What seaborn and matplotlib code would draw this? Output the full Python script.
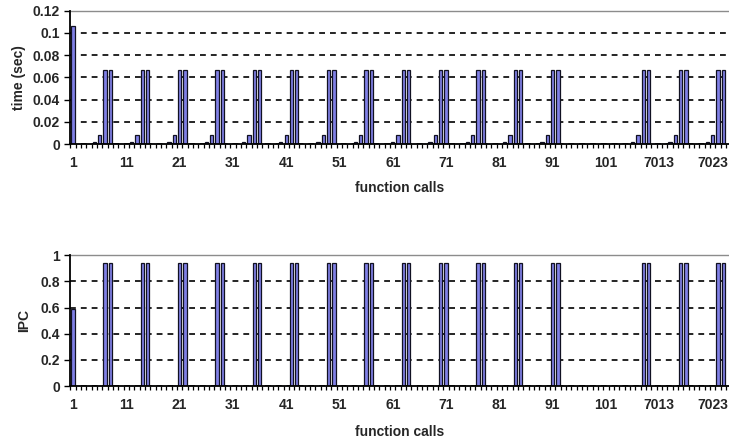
import numpy as np
import pandas as pd
import matplotlib
matplotlib.use("Agg")
import matplotlib.pyplot as plt
import seaborn as sns

# ---------------- data ----------------
calls = [str(c) for c in list(range(1, 105)) + list(range(7007, 7027))]

time_sec = [
    0.106, 0, 0, 0,
    0.0015, 0.008, 0.0665, 0.0665, 0, 0, 0,
    0.0015, 0.008, 0.0665, 0.0665, 0, 0, 0,
    0.0015, 0.008, 0.0665, 0.0665, 0, 0, 0,
    0.0015, 0.008, 0.0665, 0.0665, 0, 0, 0,
    0.0015, 0.008, 0.0665, 0.0665, 0, 0, 0,
    0.0015, 0.008, 0.0665, 0.0665, 0, 0, 0,
    0.0015, 0.008, 0.0665, 0.0665, 0, 0, 0,
    0.0015, 0.008, 0.0665, 0.0665, 0, 0, 0,
    0.0015, 0.008, 0.0665, 0.0665, 0, 0, 0,
    0.0015, 0.008, 0.0665, 0.0665, 0, 0, 0,
    0.0015, 0.008, 0.0665, 0.0665, 0, 0, 0,
    0.0015, 0.008, 0.0665, 0.0665, 0, 0, 0,
    0.0015, 0.008, 0.0665, 0.0665, 0, 0, 0,
    0, 0, 0, 0, 0, 0, 0, 0, 0, 0,
    0.0015, 0.008, 0.0665, 0.0665, 0, 0, 0,
    0.0015, 0.008, 0.0665, 0.0665, 0, 0, 0,
    0.0015, 0.008, 0.0665, 0.0665, 0,
]

ipc = [
    0.59, 0, 0, 0,
    0, 0, 0.94, 0.94, 0, 0, 0,
    0, 0, 0.94, 0.94, 0, 0, 0,
    0, 0, 0.94, 0.94, 0, 0, 0,
    0, 0, 0.94, 0.94, 0, 0, 0,
    0, 0, 0.94, 0.94, 0, 0, 0,
    0, 0, 0.94, 0.94, 0, 0, 0,
    0, 0, 0.94, 0.94, 0, 0, 0,
    0, 0, 0.94, 0.94, 0, 0, 0,
    0, 0, 0.94, 0.94, 0, 0, 0,
    0, 0, 0.94, 0.94, 0, 0, 0,
    0, 0, 0.94, 0.94, 0, 0, 0,
    0, 0, 0.94, 0.94, 0, 0, 0,
    0, 0, 0.94, 0.94, 0, 0, 0,
    0, 0, 0, 0, 0, 0, 0, 0, 0, 0,
    0, 0, 0.94, 0.94, 0, 0, 0,
    0, 0, 0.94, 0.94, 0, 0, 0,
    0, 0, 0.94, 0.94, 0,
]

x_tick_labels = ["1", "11", "21", "31", "41", "51", "61", "71", "81", "91", "101", "7013", "7023"]
time_ticks = [0, 0.02, 0.04, 0.06, 0.08, 0.1, 0.12]
time_tick_labels = ["0", "0.02", "0.04", "0.06", "0.08", "0.1", "0.12"]
ipc_ticks = [0, 0.2, 0.4, 0.6, 0.8, 1.0]
ipc_tick_labels = ["0", "0.2", "0.4", "0.6", "0.8", "1"]

df = pd.DataFrame({"call": calls, "time": time_sec, "ipc": ipc})

# ---------------- style ----------------
sns.set_style("white")
plt.rcParams["font.family"] = ["Liberation Sans", "DejaVu Sans"]
plt.rcParams["font.weight"] = "bold"

W, H = 729, 442
fig = plt.figure(figsize=(W / 100, H / 100), dpi=100)

n = len(calls)
cat_w = 5.33
ax_left = 70.3
ax_w = cat_w * n

panels = [
    ("time", 10.7, 144.0, time_ticks, time_tick_labels, "time (sec)", 19, 188, 0.12),
    ("ipc", 255.3, 386.0, ipc_ticks, ipc_tick_labels, "IPC", 24, 432, 1.0),
]

for col, top, bot, yt, ytl, ylab, ylx, xly, ymax in panels:
    ax = fig.add_axes([ax_left / W, (H - bot) / H, ax_w / W, (bot - top) / H])
    sns.barplot(data=df, x="call", y=col, order=calls, color="#8080E6",
                saturation=1, edgecolor="#111122", linewidth=0.9, width=0.62,
                ax=ax, zorder=3)
    ax.set_xlim(-0.5, n - 0.5)
    ax.set_ylim(0, ymax)

    ax.set_yticks(yt)
    ax.set_yticklabels(ytl, fontsize=10, fontweight="bold")
    ax.tick_params(axis="y", which="major", direction="out", length=4.5,
                   width=1.0, color="black", pad=3, left=True)
    ax.yaxis.grid(True, color="black", linestyle=(0, (3.5, 3.0)), linewidth=1.2, zorder=1)
    ax.xaxis.grid(False)

    major = list(range(0, n, 10))
    ax.set_xticks(major)
    ax.set_xticklabels(x_tick_labels, fontsize=10, fontweight="bold")
    ax.set_xticks(np.arange(-0.5, n, 1.0), minor=True)
    ax.tick_params(axis="x", which="major", length=0, pad=8.5, bottom=True)
    ax.tick_params(axis="x", which="minor", direction="out", length=3.2,
                   width=0.9, color="black", bottom=True)

    for s in ["left", "bottom"]:
        ax.spines[s].set_visible(True)
        ax.spines[s].set_color("black")
        ax.spines[s].set_linewidth(1.3)
        ax.spines[s].set_zorder(5)
    ax.spines["top"].set_visible(True)
    ax.spines["top"].set_color("#8c8c8c")
    ax.spines["top"].set_linewidth(1.0)
    ax.spines["right"].set_visible(False)

    ax.set_xlabel("function calls", fontsize=10, fontweight="bold", va="center")
    ax.xaxis.set_label_coords((400 - ax_left) / ax_w, -(xly - bot) / (bot - top))
    ax.set_ylabel(ylab, fontsize=10, fontweight="bold", va="center")
    ax.yaxis.set_label_coords((ylx - ax_left) / ax_w, 0.5)

fig.savefig("out.png", dpi=100)
